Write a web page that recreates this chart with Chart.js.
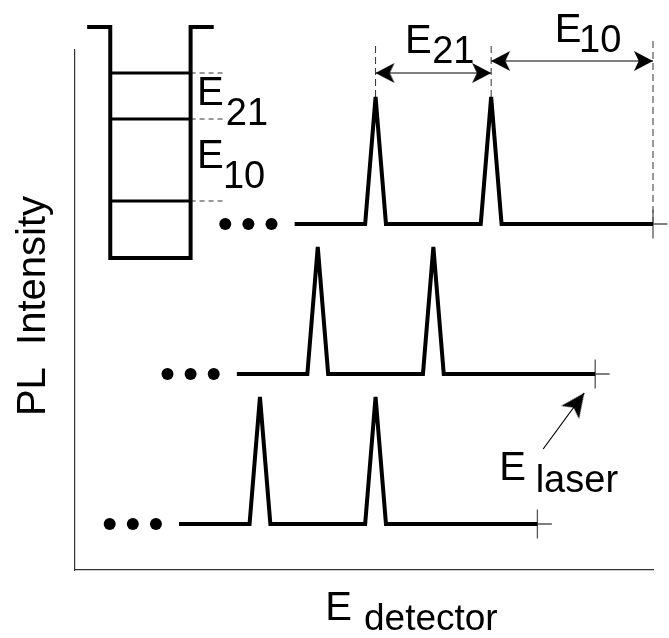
<!DOCTYPE html>
<html>
<head>
<meta charset="utf-8">
<title>PL spectra schematic</title>
<script src="https://cdn.jsdelivr.net/npm/chart.js@4.4.1/dist/chart.umd.min.js"></script>
<style>
  html, body { margin: 0; padding: 0; background: #fff; }
  #wrap { width: 669px; height: 638px; }
</style>
</head>
<body>
<div id="wrap"><canvas id="chart"></canvas></div>
<script>
// energy in units of the laser step, intensity in arbitrary units
const laserEnergy = [10.0, 9.0, 8.0];
const baseline = [6.0, 3.0, 0.0];
const traceStart = [3.8, 2.8, 1.8];
const peakEnergy = [[5.2, 7.2], [4.2, 6.2], [3.2, 5.2]];
const peakHeight = [2.54, 2.54, 2.54];
const peakHalfWidth = 0.18;
const dotEnergy = [[2.6, 3.0, 3.4], [1.6, 2.0, 2.4], [0.6, 1.0, 1.4]];

// quantum well sketch (top left)
const wellX = [0.21, 0.61, 0.61, 2.0, 2.0, 2.4];
const wellY = [9.94, 9.94, 5.32, 5.32, 9.94, 9.94];
const levelY = [9.02, 8.1, 6.46];
const levelX = [0.61, 2.0];
const levelDashEnd = 2.6;

// spacing arrows on the top trace
const arrowE21 = {x: [5.2, 7.2], y: 9.02};
const arrowE10 = {x: [7.2, 10.0], y: 9.26};
const markerTop = 9.62;
const laserMarkerTop = 9.74;
// E laser pointer
const laserArrowX = [8.1, 8.81];
const laserArrowY = [1.5, 2.62];

const labels = [
  {text: 'E', x: 2.11, y: 8.38, size: 40},
  {text: '21', x: 2.61, y: 7.98, size: 38},
  {text: 'E', x: 2.11, y: 7.12, size: 40},
  {text: '10', x: 2.56, y: 6.72, size: 38},
  {text: 'E', x: 5.71, y: 9.42, size: 40},
  {text: '21', x: 6.18, y: 9.22, size: 38},
  {text: 'E', x: 8.30, y: 9.64, size: 40},
  {text: '10', x: 8.72, y: 9.44, size: 38},
  {text: 'E', x: 7.34, y: 0.88, size: 40},
  {text: 'laser', x: 7.97, y: 0.64, size: 38},
  {text: 'E', x: 4.33, y: -1.92, size: 40},
  {text: 'detector', x: 5.0, y: -2.12, size: 37}
];
const yTitle = 'PL  Intensity';
const FONT = "'Liberation Sans', Arial, sans-serif";

function spectrum(i) {
  const b = baseline[i];
  const pts = [{x: traceStart[i], y: b}];
  peakEnergy[i].forEach(p => {
    pts.push({x: p - peakHalfWidth, y: b}, {x: p, y: b + peakHeight[i]}, {x: p + peakHalfWidth, y: b});
  });
  pts.push({x: laserEnergy[i], y: b});
  return pts;
}

function arrowHead(len, halfW) {
  const c = document.createElement('canvas');
  c.width = len * 2 + 2;
  c.height = halfW * 2 + 2;
  const g = c.getContext('2d');
  const tx = len + 1, cy = halfW + 1;
  g.fillStyle = '#000';
  g.beginPath();
  g.moveTo(tx, cy);
  g.lineTo(1, 1);
  g.lineTo(1 + len * 0.25, cy);
  g.lineTo(1, cy * 2 - 1);
  g.closePath();
  g.fill();
  return c;
}

const levelPts = [], dashPts = [];
levelY.forEach(y => {
  levelPts.push({x: levelX[0], y}, {x: levelX[1], y}, {x: levelX[1], y: null});
  dashPts.push({x: levelX[1], y}, {x: levelDashEnd, y}, {x: levelDashEnd, y: null});
});

const crossPts = [];
laserEnergy.forEach((L, i) => {
  const b = baseline[i];
  crossPts.push({x: L, y: b - 0.29}, {x: L, y: b + 0.29}, {x: L, y: null});
  crossPts.push({x: L, y: b}, {x: L + 0.25, y: b}, {x: L + 0.25, y: null});
});

const markerPts = [];
arrowE21.x.forEach(x => {
  markerPts.push({x, y: baseline[0] + peakHeight[0]}, {x, y: markerTop}, {x, y: null});
});
markerPts.push({x: laserEnergy[0], y: baseline[0]}, {x: laserEnergy[0], y: laserMarkerTop});

const dots = [];
dotEnergy.forEach((row, i) => row.forEach(x => dots.push({x, y: baseline[i]})));

const shaftPts = [
  {x: arrowE21.x[0], y: arrowE21.y}, {x: arrowE21.x[1], y: arrowE21.y}, {x: arrowE21.x[1], y: null},
  {x: arrowE10.x[0], y: arrowE10.y}, {x: arrowE10.x[1], y: arrowE10.y}, {x: arrowE10.x[1], y: null},
  {x: laserArrowX[0], y: laserArrowY[0]}, {x: laserArrowX[1], y: laserArrowY[1]}
];

const headSmall = arrowHead(19, 10);
const headLaser = arrowHead(24, 11);

const lineDefaults = {showLine: true, pointRadius: 0, clip: false, borderColor: '#000', borderCapStyle: 'butt'};

const textPlugin = {
  id: 'texts',
  afterDraw(chart) {
    const {ctx, scales: {x, y}, chartArea} = chart;
    ctx.save();
    ctx.fillStyle = '#000';
    ctx.textBaseline = 'alphabetic';
    ctx.textAlign = 'left';
    labels.forEach(l => {
      ctx.font = l.size + 'px ' + FONT;
      ctx.fillText(l.text, x.getPixelForValue(l.x), y.getPixelForValue(l.y));
    });
    ctx.font = '40px ' + FONT;
    ctx.textAlign = 'center';
    ctx.translate(chartArea.left - 30, (chartArea.top + chartArea.bottom) / 2 - 4);
    ctx.rotate(-Math.PI / 2);
    ctx.fillText(yTitle, 0, 0);
    ctx.restore();
  }
};

new Chart(document.getElementById('chart'), {
  type: 'scatter',
  data: {
    datasets: [
      {...lineDefaults, data: wellX.map((x, i) => ({x, y: wellY[i]})), borderWidth: 4, borderJoinStyle: 'miter'},
      {...lineDefaults, data: levelPts, borderWidth: 3},
      {...lineDefaults, data: dashPts, borderWidth: 1, borderColor: '#333', borderDash: [5, 4]},
      {...lineDefaults, data: spectrum(0), borderWidth: 4, borderJoinStyle: 'miter'},
      {...lineDefaults, data: spectrum(1), borderWidth: 4, borderJoinStyle: 'miter'},
      {...lineDefaults, data: spectrum(2), borderWidth: 4, borderJoinStyle: 'miter'},
      {data: dots, pointRadius: 6, pointStyle: 'circle', backgroundColor: '#000', borderColor: '#000', borderWidth: 0, clip: false},
      {...lineDefaults, data: crossPts, borderWidth: 1.3, borderColor: '#555'},
      {...lineDefaults, data: markerPts, borderWidth: 1, borderColor: '#333', borderDash: [7, 4]},
      {...lineDefaults, data: shaftPts, borderWidth: 1.2},
      {
        data: [
          {x: arrowE21.x[0], y: arrowE21.y}, {x: arrowE21.x[1], y: arrowE21.y},
          {x: arrowE10.x[0], y: arrowE10.y}, {x: arrowE10.x[1], y: arrowE10.y}
        ],
        pointStyle: headSmall, pointRadius: 5, pointRotation: [180, 0, 180, 0], clip: false
      },
      {
        data: [{x: laserArrowX[1], y: laserArrowY[1]}],
        pointStyle: headLaser, pointRadius: 5, pointRotation: -54, clip: false
      }
    ]
  },
  options: {
    responsive: true,
    maintainAspectRatio: false,
    animation: false,
    events: [],
    layout: {padding: {left: 75, top: 50, right: 16, bottom: 68}},
    plugins: {legend: {display: false}, tooltip: {enabled: false}},
    scales: {
      x: {
        type: 'linear', min: 0, max: 10,
        ticks: {display: false},
        grid: {display: false, drawTicks: false},
        border: {display: true, color: '#333', width: 1.2}
      },
      y: {
        type: 'linear', min: -0.92, max: 9.48,
        ticks: {display: false},
        grid: {display: false, drawTicks: false},
        border: {display: true, color: '#333', width: 1.2}
      }
    }
  },
  plugins: [textPlugin]
});
</script>
</body>
</html>
